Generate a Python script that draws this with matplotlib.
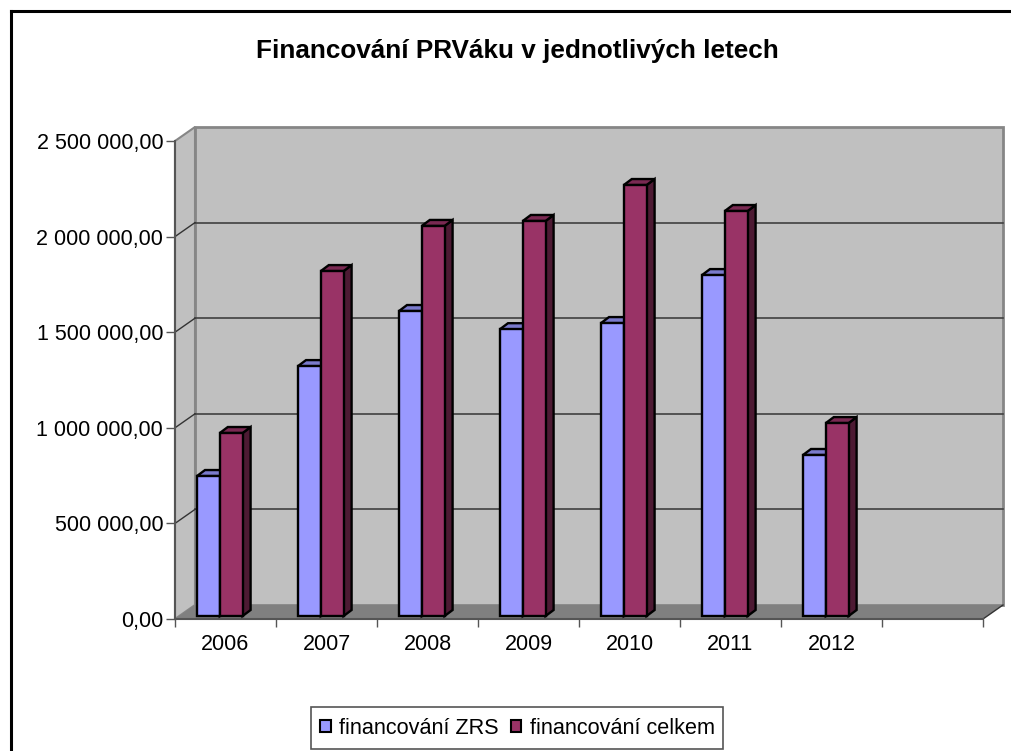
import matplotlib
matplotlib.use('Agg')
import matplotlib.pyplot as plt
from matplotlib.lines import Line2D
from matplotlib.patches import Patch, Rectangle

plt.rcParams['font.family'] = ['Liberation Sans', 'DejaVu Sans']

years = ['2006', '2007', '2008', '2009', '2010', '2011', '2012']
zrs = [732000, 1307000, 1595000, 1500000, 1532000, 1783000, 842000]
celkem = [957000, 1804000, 2040000, 2066000, 2254000, 2118000, 1009000]
y_ticks = [0, 500000, 1000000, 1500000, 2000000, 2500000]
y_labels = ['0,00', '500 000,00', '1 000 000,00', '1 500 000,00', '2 000 000,00', '2 500 000,00']
series_names = ['financování ZRS', 'financování celkem']
title = 'Financování PRVáku v jednotlivých letech'

W, H = 1012, 751
PX_X = 8 / 808.0
PX_Y = 2500000 / 478.0
WALL_DX = 20 * PX_X
WALL_DY = 14 * PX_Y
BAR_DX = 8 * PX_X
BAR_DY = 6 * PX_Y
BAR_W = 22.8 * PX_X
BAR_START = 22 * PX_X
BAR_LIFT = 3 * PX_Y


def draw_bar(ax, x, value, face, top, side, z):
  y0 = BAR_LIFT
  y1 = BAR_LIFT + value
  ax.fill([x + BAR_W, x + BAR_W + BAR_DX, x + BAR_W + BAR_DX, x + BAR_W],
          [y0, y0 + BAR_DY, y1 + BAR_DY, y1],
          facecolor=side, edgecolor='black', lw=1.7, zorder=z, clip_on=False)
  ax.fill([x, x + BAR_DX, x + BAR_W + BAR_DX, x + BAR_W],
          [y1, y1 + BAR_DY, y1 + BAR_DY, y1],
          facecolor=top, edgecolor='black', lw=1.7, zorder=z, clip_on=False)
  ax.bar(x, value, BAR_W, bottom=y0, align='edge', color=face, edgecolor='black',
         lw=1.7, zorder=z + 0.1, clip_on=False)


def main():
  fig = plt.figure(figsize=(W / 100, H / 100), dpi=100)
  ax = fig.add_axes([175 / W, (H - 619) / H, 808 / W, 478 / H])
  ax.set_xlim(0, 8)
  ax.set_ylim(0, 2500000)
  ax.patch.set_visible(False)

  # walls and floor
  ymax = y_ticks[-1]
  ax.fill([WALL_DX, 8 + WALL_DX, 8 + WALL_DX, WALL_DX],
          [WALL_DY, WALL_DY, ymax + WALL_DY, ymax + WALL_DY],
          facecolor='#c0c0c0', edgecolor='#868686', lw=2, zorder=1, clip_on=False)
  ax.fill([0, WALL_DX, WALL_DX, 0], [0, WALL_DY, ymax + WALL_DY, ymax],
          facecolor='#c0c0c0', edgecolor='#868686', lw=1.5, zorder=1, clip_on=False)
  ax.fill([0, 8, 8 + WALL_DX, WALL_DX], [0, 0, WALL_DY, WALL_DY],
          facecolor='#808080', edgecolor='none', zorder=2, clip_on=False)
  ax.plot([8, 8 + WALL_DX], [0, WALL_DY], color='#333333', lw=1, zorder=2, clip_on=False)

  for v in y_ticks[1:-1]:
    ax.plot([WALL_DX, 8 + WALL_DX], [v + WALL_DY, v + WALL_DY], color='#404040', lw=1.2,
            zorder=3, clip_on=False)
    ax.plot([0, WALL_DX], [v, v + WALL_DY], color='#333333', lw=1, zorder=3, clip_on=False)

  for i in range(len(years)):
    x = i + BAR_START
    draw_bar(ax, x, zrs[i], '#9999ff', '#7a7acc', '#4d4d80', 5 + i)
    draw_bar(ax, x + BAR_W, celkem[i], '#993366', '#7a2952', '#4d1a33', 5.3 + i)

  for name in ['top', 'right']:
    ax.spines[name].set_visible(False)
  for name in ['left', 'bottom']:
    ax.spines[name].set_color('#555555')
    ax.spines[name].set_linewidth(1.5)
    ax.spines[name].set_zorder(4)

  ax.set_yticks(y_ticks)
  ax.set_yticklabels(y_labels, fontsize=15.5)
  ax.tick_params(axis='y', length=6.5, width=1, color='#555555', pad=2)
  ax.set_xticks(range(9))
  ax.set_xticklabels([])
  ax.set_xticks([i + 0.5 for i in range(len(years))], minor=True)
  ax.set_xticklabels(years, minor=True, fontsize=15.5)
  ax.tick_params(axis='x', which='major', length=6, width=1, color='#555555')
  ax.tick_params(axis='x', which='minor', length=0, pad=11)

  fig.text(517 / W, 1 - 51 / H, title, fontsize=18.8, fontweight='bold', ha='center', va='center')

  # outer frame runs off the right and bottom of the image
  fig.add_artist(Line2D([10.5 / W, 1], [1 - 11 / H, 1 - 11 / H], color='black', lw=2.2))
  fig.add_artist(Line2D([10.5 / W, 10.5 / W], [0, 1 - 11 / H], color='black', lw=2.2))

  # legend box is drawn apart so the text can sit off centre like in the original
  fig.add_artist(Rectangle((311 / W, 1 - 749 / H), 412 / W, 42 / H, transform=fig.transFigure,
                           facecolor='white', edgecolor='#555555', lw=1.2, zorder=1))
  handles = [Patch(facecolor='#9999ff', edgecolor='black', lw=1.5),
             Patch(facecolor='#993366', edgecolor='black', lw=1.5)]
  fig.legend(handles, series_names, ncol=2, fontsize=15.6, loc='center left',
             bbox_to_anchor=(320 / W, 1 - 728 / H), borderaxespad=0, frameon=False,
             handlelength=0.5, handleheight=0.5, handletextpad=0.38, columnspacing=0.55,
             borderpad=0)

  fig.savefig('out.png', dpi=100)


if __name__ == "__main__":
  main()
